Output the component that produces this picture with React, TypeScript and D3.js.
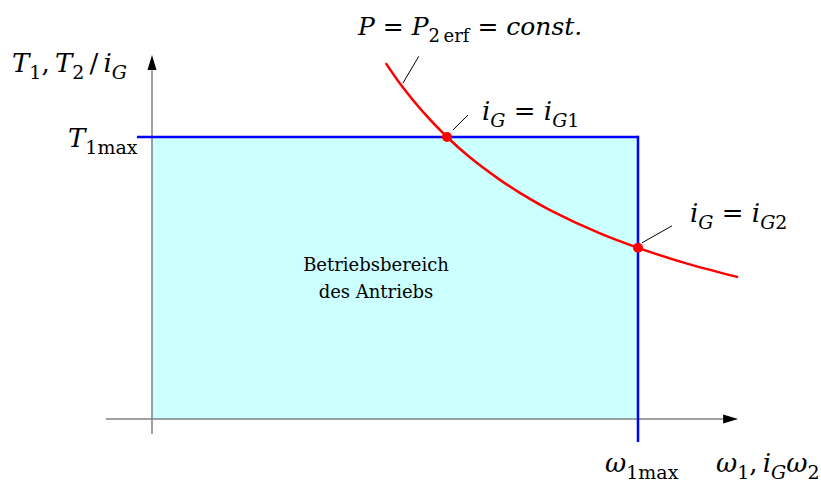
import React from "react";
import * as d3 from "d3";

// Normalised operating-range diagram: ω in units of ω1max, T in units of T1max
const omegaMax = 1;
const torqueMax = 1;

// Constant-power hyperbola P = P2erf
const curveOmega = [0.481, 0.516, 0.558, 0.607, 0.654, 0.716, 0.757, 0.819, 0.922, 1.0, 1.101, 1.206];
const curveTorque = [1.262, 1.176, 1.088, 1.0, 0.928, 0.848, 0.802, 0.741, 0.658, 0.607, 0.551, 0.503];

// Operating points for gear ratios iG1 and iG2
const pointOmega = [0.607, 1.0];
const pointTorque = [1.0, 0.607];

// Axis extents (data units)
const xAxisExtent = [-0.095, 1.206];
const yAxisExtent = [-0.053, 1.291];
// Extents of the blue limit lines
const limitTopStart = -0.031;
const limitRightEnd = -0.082;

type Seg = { t: string; it?: boolean; sub?: boolean };

const W = 821;
const H = 484;
const FONT = '"DejaVu Serif", serif';
const MAIN = 26;
const SUB = 19;
const SUB_SHIFT = 7;
const THIN = "\u2009";

function MathText({ x, y, segs, size = MAIN, subSize = SUB }: { x: number; y: number; segs: Seg[]; size?: number; subSize?: number }) {
  let inSub = false;
  return (
    <text x={x} y={y} style={{ fontFamily: FONT, fontSize: size }} fill="#000">
      {segs.map((s, i) => {
        let dy = 0;
        if (s.sub && !inSub) dy = SUB_SHIFT;
        if (!s.sub && inSub) dy = -SUB_SHIFT;
        inSub = !!s.sub;
        return (
          <tspan
            key={i}
            dy={dy}
            style={{
              whiteSpace: "pre",
              fontStyle: s.it ? "italic" : "normal",
              fontSize: s.sub ? subSize : size,
              fontFamily: FONT,
            }}
          >
            {s.t}
          </tspan>
        );
      })}
    </text>
  );
}

export default function App() {
  const x = d3.scaleLinear().domain([0, omegaMax]).range([152, 638]);
  const y = d3.scaleLinear().domain([0, torqueMax]).range([419, 137]);

  const curvePts: [number, number][] = curveOmega.map((w, i) => [w, curveTorque[i]]);
  const line = d3
    .line<[number, number]>()
    .x((d) => x(d[0]))
    .y((d) => y(d[1]))
    .curve(d3.curveCatmullRom.alpha(0.5));

  const x0 = x(0);
  const y0 = y(0);
  const arrowLen = 15;
  const arrowHalf = 4.5;

  const xTip = x(xAxisExtent[1]);
  const yTip = y(yAxisExtent[1]);

  const p1 = [x(pointOmega[0]), y(pointTorque[0])];
  const p2 = [x(pointOmega[1]), y(pointTorque[1])];
  const leaderP = [x(curveOmega[1]), y(curveTorque[1])];

  return (
    <svg
      width={W}
      height={H}
      viewBox={`0 0 ${W} ${H}`}
      style={{ position: "absolute", left: 0, top: 0, background: "#fff" }}
    >
      {/* operating region */}
      <rect
        x={x0}
        y={y(torqueMax)}
        width={x(omegaMax) - x0}
        height={y0 - y(torqueMax)}
        fill="#ccffff"
      />

      {/* axes */}
      <line x1={x(xAxisExtent[0])} y1={y0} x2={xTip - arrowLen + 2} y2={y0} stroke="#808080" strokeWidth={1.5} />
      <line x1={x0} y1={y(yAxisExtent[0])} x2={x0} y2={yTip + arrowLen - 2} stroke="#808080" strokeWidth={1.5} />
      <path
        d={`M${xTip},${y0} L${xTip - arrowLen},${y0 - arrowHalf} L${xTip - arrowLen},${y0 + arrowHalf} Z`}
        fill="#000"
      />
      <path
        d={`M${x0},${yTip} L${x0 - arrowHalf},${yTip + arrowLen} L${x0 + arrowHalf},${yTip + arrowLen} Z`}
        fill="#000"
      />

      {/* torque and speed limits */}
      <line x1={x(limitTopStart)} y1={y(torqueMax)} x2={x(omegaMax)} y2={y(torqueMax)} stroke="#0000ff" strokeWidth={2.5} />
      <line x1={x(omegaMax)} y1={y(torqueMax) - 1.25} x2={x(omegaMax)} y2={y(limitRightEnd)} stroke="#0000ff" strokeWidth={2.5} />

      {/* constant-power curve */}
      <path d={line(curvePts) ?? ""} fill="none" stroke="#ff0000" strokeWidth={2.5} />

      {/* leaders */}
      <line x1={leaderP[0]} y1={leaderP[1] - 4} x2={leaderP[0] + 16} y2={leaderP[1] - 31} stroke="#000" strokeWidth={1} />
      <line x1={p1[0] + 6} y1={p1[1] - 7} x2={p1[0] + 21} y2={p1[1] - 22} stroke="#000" strokeWidth={1} />
      <line x1={p2[0] + 4} y1={p2[1] - 5} x2={p2[0] + 34} y2={p2[1] - 22} stroke="#000" strokeWidth={1} />

      {/* operating points */}
      {pointOmega.map((w, i) => (
        <circle key={i} cx={x(w)} cy={y(pointTorque[i])} r={5} fill="#ff0000" />
      ))}

      {/* labels */}
      <MathText
        x={358}
        y={35}
        size={25}
        subSize={18}
        segs={[
          { t: "P", it: true },
          { t: " = " },
          { t: "P", it: true },
          { t: "2" + THIN + "erf", sub: true },
          { t: " = " },
          { t: "const.", it: true },
        ]}
      />
      <MathText
        x={482}
        y={120}
        segs={[
          { t: "i", it: true },
          { t: "G", it: true, sub: true },
          { t: " = " },
          { t: "i", it: true },
          { t: "G", it: true, sub: true },
          { t: "1", sub: true },
        ]}
      />
      <MathText
        x={690}
        y={222}
        segs={[
          { t: "i", it: true },
          { t: "G", it: true, sub: true },
          { t: " = " },
          { t: "i", it: true },
          { t: "G", it: true, sub: true },
          { t: "2", sub: true },
        ]}
      />
      <MathText
        x={12}
        y={72}
        segs={[
          { t: "T", it: true },
          { t: "1", sub: true },
          { t: "," + THIN },
          { t: "T", it: true },
          { t: "2", sub: true },
          { t: THIN + "/" + THIN },
          { t: "i", it: true },
          { t: "G", it: true, sub: true },
        ]}
      />
      <MathText
        x={68}
        y={147}
        segs={[
          { t: "T", it: true },
          { t: "1max", sub: true },
        ]}
      />
      <MathText
        x={605}
        y={472}
        segs={[
          { t: "ω", it: true },
          { t: "1max", sub: true },
        ]}
      />
      <MathText
        x={716}
        y={472}
        segs={[
          { t: "ω", it: true },
          { t: "1", sub: true },
          { t: "," + THIN },
          { t: "i", it: true },
          { t: "G", it: true, sub: true },
          { t: "ω", it: true },
          { t: "2", sub: true },
        ]}
      />

      <text x={376} y={271} textAnchor="middle" style={{ fontFamily: FONT, fontSize: 18 }} fill="#000">
        Betriebsbereich
      </text>
      <text x={376} y={298} textAnchor="middle" style={{ fontFamily: FONT, fontSize: 18 }} fill="#000">
        des Antriebs
      </text>
    </svg>
  );
}
